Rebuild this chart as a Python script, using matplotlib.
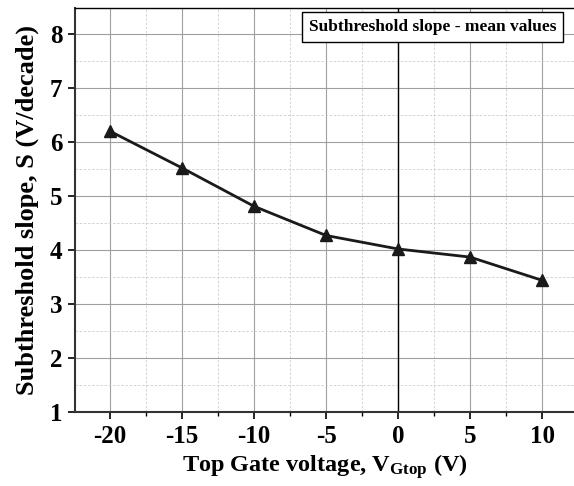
import numpy as np
import matplotlib
matplotlib.use("Agg")
import matplotlib.pyplot as plt
from matplotlib.ticker import MultipleLocator

# Mean subthreshold slope vs top gate voltage
v_gtop = [-20, -15, -10, -5, 0, 5, 10]
slope = [6.20, 5.52, 4.81, 4.27, 4.02, 3.87, 3.44]

x_ticks = [-20, -15, -10, -5, 0, 5, 10]
y_ticks = [1, 2, 3, 4, 5, 6, 7, 8]

plt.rcParams['font.family'] = ['Liberation Serif', 'DejaVu Serif']
plt.rcParams['font.weight'] = 'bold'
plt.rcParams['mathtext.fontset'] = 'custom'
plt.rcParams['mathtext.bf'] = 'Liberation Serif:bold'
plt.rcParams['mathtext.rm'] = 'Liberation Serif:bold'
plt.rcParams['mathtext.it'] = 'Liberation Serif:bold'

fig = plt.figure(figsize=(5.74, 4.86), dpi=100)
ax = fig.add_axes([0.1307, 0.152, 0.8693, 0.8315])

# grid
ax.xaxis.set_minor_locator(MultipleLocator(2.5))
ax.yaxis.set_minor_locator(MultipleLocator(0.5))
ax.grid(which='major', color='#a0a0a0', linewidth=0.8, linestyle='-')
ax.grid(which='minor', color='#cccccc', linewidth=0.6, linestyle=(0, (3, 2)))
ax.set_axisbelow(True)

ax.axvline(0, color='black', linewidth=1.0, zorder=2)

ax.plot(v_gtop, slope, color='#1a1a1a', linewidth=2.0, marker='^',
        markersize=8, zorder=3)

ax.set_xlim(-22.43, 12.22)
ax.set_ylim(1, 8.48)
ax.set_xticks(x_ticks)
ax.set_yticks(y_ticks)
ax.set_xticklabels([str(v) for v in x_ticks], fontsize=18, fontweight='bold')
ax.set_yticklabels([str(v) for v in y_ticks], fontsize=18, fontweight='bold')

ax.tick_params(which='major', direction='out', length=5, width=1.2, pad=4)
ax.tick_params(which='minor', direction='out', length=3, width=1.0)
ax.tick_params(axis='y', which='minor', length=0)

for s in ['left', 'bottom']:
    ax.spines[s].set_linewidth(1.5)
    ax.spines[s].set_color('#333333')
ax.spines['top'].set_linewidth(1.0)
ax.spines['right'].set_visible(False)

ax.set_xlabel(r'Top Gate voltage, V$_{\mathbf{Gtop}}$ (V)', fontsize=17.5,
              fontweight='bold', labelpad=3)
ax.set_ylabel('Subthreshold slope, S (V/decade)', fontsize=19,
              fontweight='bold', labelpad=8)

ax.text(0.717, 0.953, 'Subthreshold slope - mean values', transform=ax.transAxes,
        ha='center', va='center', fontsize=12.5, fontweight='bold',
        bbox=dict(boxstyle='square,pad=0.4', facecolor='white',
                  edgecolor='black', linewidth=1.0), zorder=5)

fig.savefig('out.png', dpi=100)
